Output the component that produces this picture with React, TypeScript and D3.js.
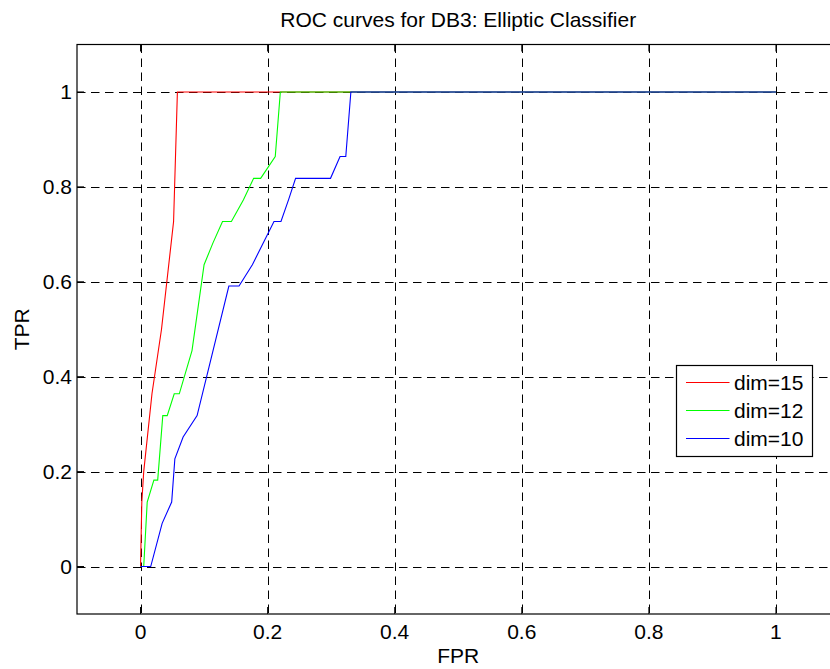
import React from "react";
import * as d3 from "d3";

const redFPR = [0, 0.002, 0.005, 0.018, 0.033, 0.052, 0.058, 1];
const redTPR = [0, 0.136, 0.2, 0.364, 0.5, 0.727, 1, 1];

const greenFPR = [0, 0.005, 0.0105, 0.021, 0.027, 0.035, 0.042, 0.053, 0.061, 0.081, 0.1, 0.114, 0.129, 0.143, 0.162, 0.178, 0.189, 0.212, 0.22, 1];
const greenTPR = [0, 0, 0.136, 0.182, 0.182, 0.318, 0.318, 0.364, 0.364, 0.455, 0.636, 0.682, 0.727, 0.727, 0.773, 0.818, 0.818, 0.864, 1, 1];

const blueFPR = [0, 0.016, 0.034, 0.049, 0.054, 0.067, 0.089, 0.139, 0.155, 0.176, 0.21, 0.221, 0.233, 0.244, 0.299, 0.314, 0.323, 0.331, 1];
const blueTPR = [0, 0, 0.091, 0.136, 0.227, 0.273, 0.318, 0.591, 0.591, 0.636, 0.727, 0.727, 0.773, 0.818, 0.818, 0.864, 0.864, 1, 1];

const seriesNames = ["dim=15", "dim=12", "dim=10"];
const seriesColors = ["#ff0000", "#00ff00", "#0000ff"];
const xTicks = [0, 0.2, 0.4, 0.6, 0.8, 1];
const yTicks = [0, 0.2, 0.4, 0.6, 0.8, 1];
const xTickLabels = ["0", "0.2", "0.4", "0.6", "0.8", "1"];
const yTickLabels = ["0", "0.2", "0.4", "0.6", "0.8", "1"];

const W = 830;
const H = 669;
const FONT = "'Liberation Sans', Arial, Helvetica, sans-serif";

export default function App() {
  const x = d3.scaleLinear().domain([-0.1, 1.1]).range([77, 839.5]);
  const y = d3.scaleLinear().domain([-0.1, 1.1]).range([614, 44.5]);
  const left = x(-0.1);
  const right = x(1.1);
  const top = y(1.1);
  const bottom = y(-0.1);

  const series = [
    { fpr: redFPR, tpr: redTPR },
    { fpr: greenFPR, tpr: greenTPR },
    { fpr: blueFPR, tpr: blueTPR },
  ];
  const line = d3
    .line<[number, number]>()
    .x((d) => x(d[0]))
    .y((d) => y(d[1]));

  const fs = 21;
  const legX0 = 676.5;
  const legY0 = 365.5;
  const legW = 136;
  const legH = 91;
  const rowYs = [382.5, 410.5, 438.5];

  return (
    <svg
      width={W}
      height={H}
      style={{ position: "absolute", left: 0, top: 0, background: "#fff" }}
      fontFamily={FONT}
    >
      <rect x={0} y={0} width={W} height={H} fill="#fff" />
      {/* grid */}
      {xTicks.map((t, i) => (
        <line
          key={"gx" + i}
          x1={Math.round(x(t)) + 0.5}
          x2={Math.round(x(t)) + 0.5}
          y1={top}
          y2={bottom}
          stroke="#000"
          strokeWidth={1}
          strokeDasharray="8.5,5.5"
        />
      ))}
      {yTicks.map((t, i) => (
        <line
          key={"gy" + i}
          x1={left}
          x2={right}
          y1={Math.round(y(t)) + 0.5}
          y2={Math.round(y(t)) + 0.5}
          stroke="#000"
          strokeWidth={1}
          strokeDasharray="8.5,5.5"
        />
      ))}
      {/* curves */}
      {series.map((s, i) => (
        <path
          key={"s" + i}
          d={line(s.fpr.map((f, j) => [f, s.tpr[j]] as [number, number])) || ""}
          fill="none"
          stroke={seriesColors[i]}
          strokeWidth={1.1}
        />
      ))}
      {/* axes box */}
      <rect
        x={left}
        y={top}
        width={right - left}
        height={bottom - top}
        fill="none"
        stroke="#000"
        strokeWidth={1.2}
      />
      {/* ticks */}
      {xTicks.map((t, i) => (
        <g key={"tx" + i}>
          <line x1={x(t)} x2={x(t)} y1={bottom} y2={bottom - 7} stroke="#000" />
          <line x1={x(t)} x2={x(t)} y1={top} y2={top + 7} stroke="#000" />
          <text
            x={x(t)}
            y={639}
            fontSize={fs}
            textAnchor="middle"
            fill="#000"
          >
            {xTickLabels[i]}
          </text>
        </g>
      ))}
      {yTicks.map((t, i) => (
        <g key={"ty" + i}>
          <line x1={left} x2={left + 7} y1={y(t)} y2={y(t)} stroke="#000" />
          <line x1={right} x2={right - 7} y1={y(t)} y2={y(t)} stroke="#000" />
          <text
            x={72}
            y={y(t) + 7.5}
            fontSize={fs}
            textAnchor="end"
            fill="#000"
          >
            {yTickLabels[i]}
          </text>
        </g>
      ))}
      {/* title and labels */}
      <text x={(left + right) / 2} y={27} fontSize={fs} textAnchor="middle" fill="#000">
        ROC curves for DB3: Elliptic Classifier
      </text>
      <text x={(left + right) / 2} y={663} fontSize={fs} textAnchor="middle" fill="#000">
        FPR
      </text>
      <text
        transform={`translate(28.5, ${(top + bottom) / 2}) rotate(-90)`}
        fontSize={fs}
        textAnchor="middle"
        fill="#000"
      >
        TPR
      </text>
      {/* legend */}
      <rect
        x={legX0}
        y={legY0}
        width={legW}
        height={legH}
        fill="#fff"
        stroke="#000"
        strokeWidth={1.2}
      />
      {seriesNames.map((n, i) => (
        <g key={"lg" + i}>
          <line
            x1={686}
            x2={729.5}
            y1={rowYs[i]}
            y2={rowYs[i]}
            stroke={seriesColors[i]}
            strokeWidth={1.1}
          />
          <text x={734} y={rowYs[i] + 7.5} fontSize={fs} fill="#000">
            {n}
          </text>
        </g>
      ))}
    </svg>
  );
}
